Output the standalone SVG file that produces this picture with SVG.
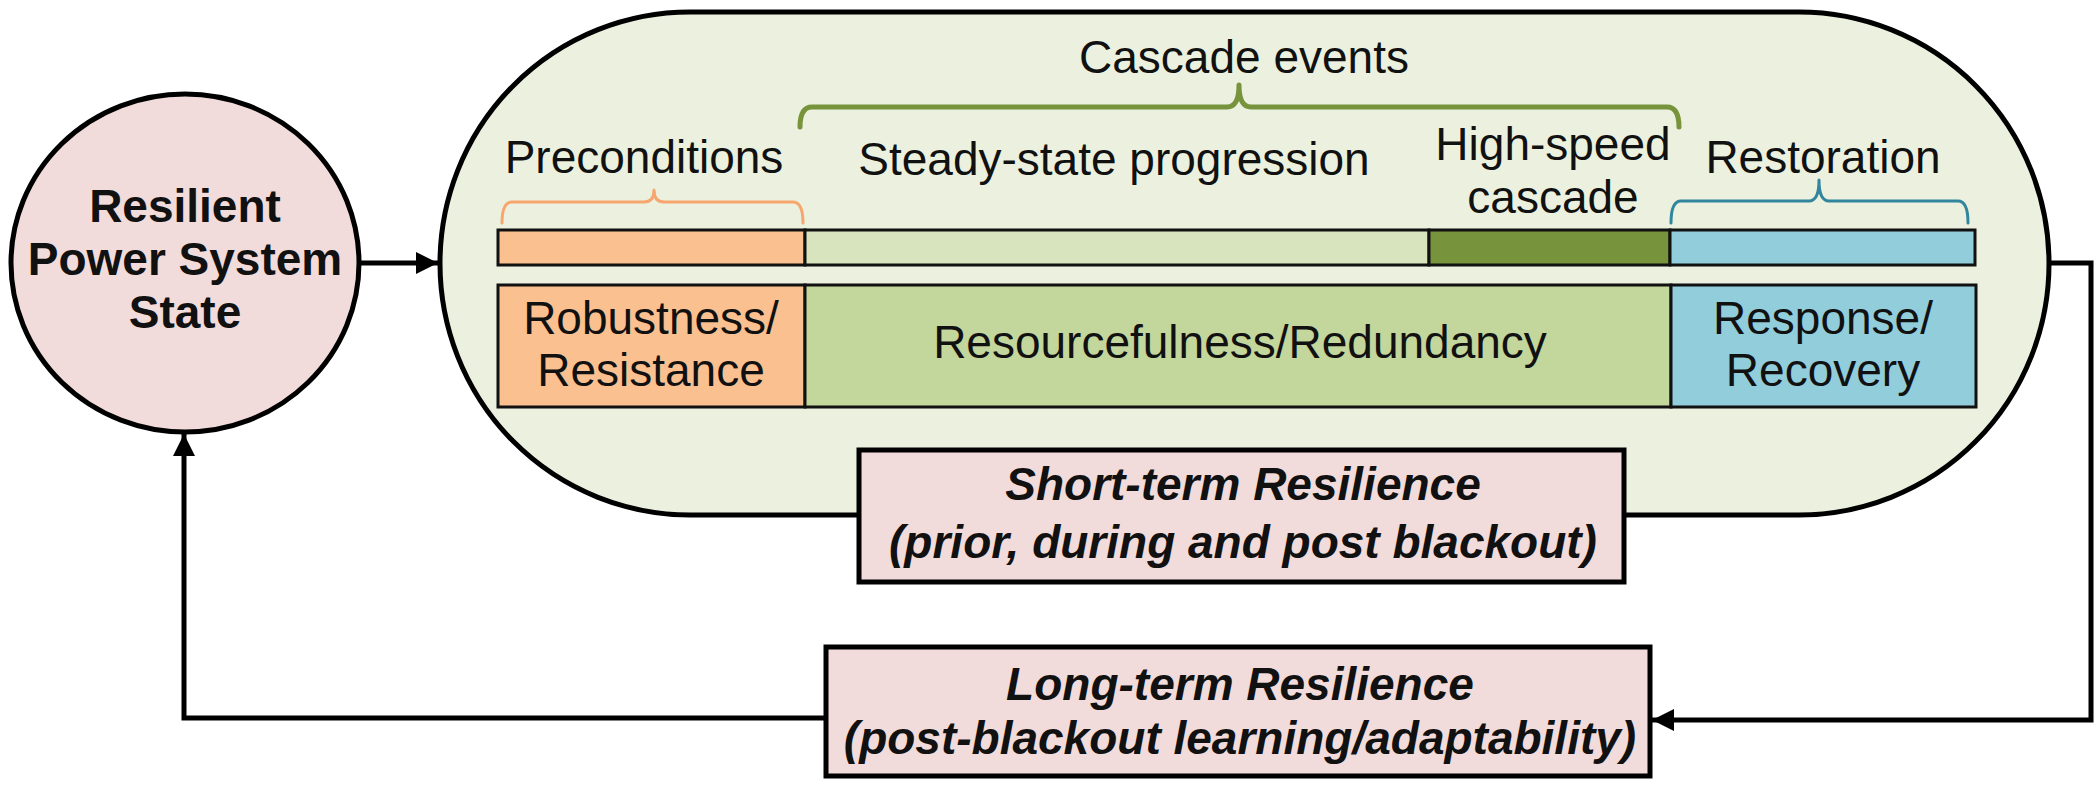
<svg xmlns="http://www.w3.org/2000/svg" width="2099" height="794" viewBox="0 0 2099 794">
<defs>
<marker id="ah" viewBox="0 0 10 10" refX="10" refY="5" markerWidth="4.4" markerHeight="4.4" orient="auto" markerUnits="strokeWidth">
<path d="M0,0 L10,5 L0,10 Z" fill="#000"/>
</marker>
<style>
.t{font-family:"Liberation Sans",Arial,sans-serif;font-size:46px;fill:#111;text-anchor:middle}
.b{font-weight:bold}
.bi{font-weight:bold;font-style:italic}
.bar{stroke:#111;stroke-width:3}
.box{fill:#F2DCDB;stroke:#000;stroke-width:5}
.conn{fill:none;stroke:#000;stroke-width:5}
.brace{fill:none;stroke-linecap:round;stroke-linejoin:round}
</style>
</defs>
<rect width="2099" height="794" fill="#fff"/>

<g id="pill">
<rect x="440" y="12" width="1609" height="503" rx="250" ry="251.5" fill="#EBF1DE" stroke="#000" stroke-width="5"/>
</g>

<g id="circle-node">
<ellipse cx="185" cy="263" rx="174" ry="169" class="box"/>
<text class="t b" x="185" y="222">Resilient</text>
<text class="t b" x="185" y="275">Power System</text>
<text class="t b" x="185" y="328">State</text>
</g>

<g id="top-bar">
<rect class="bar" x="498" y="230" width="307" height="35" fill="#FAC090"/>
<rect class="bar" x="805" y="230" width="624" height="35" fill="#D7E4BD"/>
<rect class="bar" x="1429" y="230" width="241" height="35" fill="#77933C"/>
<rect class="bar" x="1670" y="230" width="305" height="35" fill="#92CDDC"/>
</g>

<g id="braces">
<path class="brace" stroke="#F6A66E" stroke-width="3" d="M502,223 Q502,202 512,202 L644,202 Q654,202 654,190 Q654,202 664,202 L793,202 Q803,202 803,223"/>
<path class="brace" stroke="#77933C" stroke-width="5" d="M800,127 Q800,107 812,107 L1227,107 Q1239,107 1239,85 Q1239,107 1251,107 L1667,107 Q1679,107 1679,127"/>
<path class="brace" stroke="#31859C" stroke-width="3" d="M1671,223 Q1671,201 1681,201 L1809,201 Q1819,201 1819,180 Q1819,201 1829,201 L1958,201 Q1968,201 1968,223"/>
</g>

<g id="labels">
<text class="t" x="1244" y="73">Cascade events</text>
<text class="t" x="644" y="173">Preconditions</text>
<text class="t" x="1114" y="175">Steady-state progression</text>
<text class="t" x="1553" y="160">High-speed</text>
<text class="t" x="1553" y="213">cascade</text>
<text class="t" x="1823" y="173">Restoration</text>
</g>

<g id="robustness">
<rect class="bar" x="498" y="285" width="307" height="122" fill="#FAC090"/>
<text class="t" x="651" y="334">Robustness/</text>
<text class="t" x="651" y="386">Resistance</text>
</g>
<g id="resourcefulness">
<rect class="bar" x="805" y="285" width="866" height="122" fill="#C3D69B"/>
<text class="t" x="1240" y="358">Resourcefulness/Redundancy</text>
</g>
<g id="response">
<rect class="bar" x="1671" y="285" width="305" height="122" fill="#92CDDC"/>
<text class="t" x="1823" y="334">Response/</text>
<text class="t" x="1823" y="386">Recovery</text>
</g>

<g id="short-term">
<rect class="box" x="859" y="450" width="765" height="132"/>
<text class="t bi" x="1243" y="500">Short-term Resilience</text>
<text class="t bi" x="1243" y="558">(prior, during and post blackout)</text>
</g>

<g id="long-term">
<rect class="box" x="826" y="647" width="824" height="129"/>
<text class="t bi" x="1240" y="700">Long-term Resilience</text>
<text class="t bi" x="1240" y="754">(post-blackout learning/adaptability)</text>
</g>

<g id="connectors">
<path class="conn" d="M359,263 H438" marker-end="url(#ah)"/>
<path class="conn" d="M2049,263 H2091 V720 H1652" marker-end="url(#ah)"/>
<path class="conn" d="M826,718 H184 V434" marker-end="url(#ah)"/>
</g>
</svg>
